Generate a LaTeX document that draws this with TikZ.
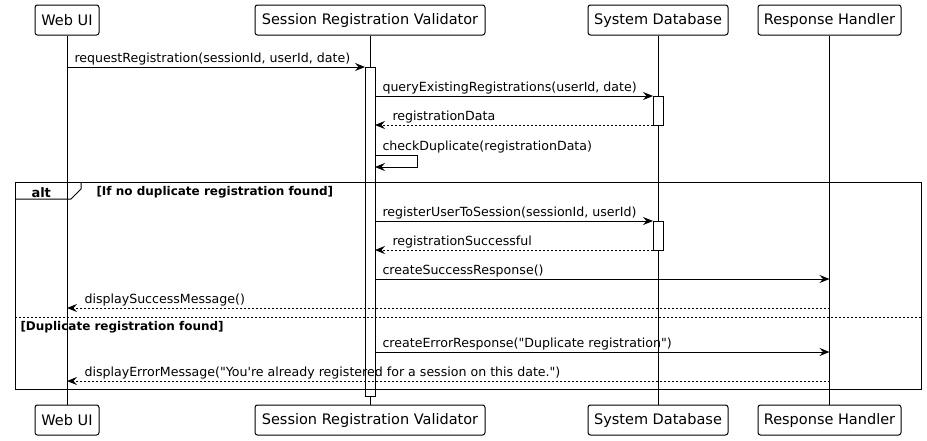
\documentclass[tikz,border=0pt]{standalone}
\usepackage{fontspec}
\setmainfont{DejaVu Sans}[Ligatures=TeXOff]
\usetikzlibrary{arrows.meta,calc}
\begin{document}
\begin{tikzpicture}[x=1pt,y=-1pt,line width=1pt,
  part/.style={draw, fill=white, rounded corners=2.5pt, minimum height=30pt, inner xsep=5pt, inner ysep=0pt, font=\fontsize{14.5}{16}\selectfont},
  msg/.style={-{Stealth[length=10pt,width=8pt,inset=3.5pt]}},
  ret/.style={msg, dash pattern=on 2pt off 2pt},
  lbl/.style={anchor=base west, inner sep=0pt, font=\fontsize{12.6}{15}\selectfont},
  cond/.style={anchor=base west, inner sep=0pt, font=\fontsize{12}{14}\selectfont\bfseries},
  actbox/.style={draw, fill=white, line width=1pt}]
\useasboundingbox (0,0) rectangle (927,440);
% participants
\node[part, minimum width=64pt] (webT) at (67,20) {Web UI};
\node[part, minimum width=230pt] (valT) at (370,20) {Session Registration Validator};
\node[part, minimum width=140pt] (dbT) at (658,20) {System Database};
\node[part, minimum width=143pt] (rhT) at (829.5,20) {Response Handler};
\node[part, minimum width=64pt] (webB) at (67,420) {Web UI};
\node[part, minimum width=230pt] (valB) at (370,420) {Session Registration Validator};
\node[part, minimum width=140pt] (dbB) at (658,420) {System Database};
\node[part, minimum width=143pt] (rhB) at (829.5,420) {Response Handler};
% lifelines
\draw (webT.south) -- (webB.north);
\draw (valT.south) -- (valB.north);
\draw (dbT.south) -- (dbB.north);
\draw (rhT.south) -- (rhB.north);
% activations
\draw[actbox] (365,67) rectangle (375,396);
\draw[actbox] (653,96) rectangle (663,125);
\draw[actbox] (653,221) rectangle (663,250);
\coordinate (vR) at (375,0);
\coordinate (vL) at (365,0);
\coordinate (dL) at (653,0);
% alt frame
\draw (15,182) rectangle (921,389);
\draw (15,199) -- (71,199) -- (81,189) -- (81,182);
\node[anchor=base west, inner sep=0pt, font=\fontsize{13}{15}\selectfont\bfseries] (altlbl) at (31,197) {alt};
\node[cond] (c1) at (96,195) {[If no duplicate registration found]};
\draw[dash pattern=on 2pt off 2pt] (15,317) -- (921,317);
\node[cond] (c2) at (20,330) {[Duplicate registration found]};
% messages
\draw[msg] (webT.south |- 0,67) -- (vL |- 0,67);
\node[lbl] (m1) at (74,62) {requestRegistration(sessionId, userId, date)};
\draw[msg] (vR |- 0,96) -- (dL |- 0,96);
\node[lbl] (m2) at (382,91) {queryExistingRegistrations(userId, date)};
\draw[ret] (dL |- 0,125) -- (vR |- 0,125);
\node[lbl] (m3) at (392,120) {registrationData};
\draw[msg] (vR |- 0,155) -- (417,155) -- (417,167) -- (vR |- 0,167);
\node[lbl] (m4) at (382,150) {checkDuplicate(registrationData)};
\draw[msg] (vR |- 0,221) -- (dL |- 0,221);
\node[lbl] (m5) at (382,216) {registerUserToSession(sessionId, userId)};
\draw[ret] (dL |- 0,250) -- (vR |- 0,250);
\node[lbl] (m6) at (392,245) {registrationSuccessful};
\draw[msg] (vR |- 0,279) -- (rhT.south |- 0,279);
\node[lbl] (m7) at (382,274) {createSuccessResponse()};
\draw[ret] (rhT.south |- 0,308) -- (webT.south |- 0,308);
\node[lbl] (m8) at (84,303) {displaySuccessMessage()};
\draw[msg] (vR |- 0,352) -- (rhT.south |- 0,352);
\node[lbl] (m9) at (382,347) {createErrorResponse("Duplicate registration")};
\draw[ret] (rhT.south |- 0,381) -- (webT.south |- 0,381);
\node[lbl] (m10) at (84,376) {displayErrorMessage("You're already registered for a session on this date.")};
\end{tikzpicture}
\end{document}
